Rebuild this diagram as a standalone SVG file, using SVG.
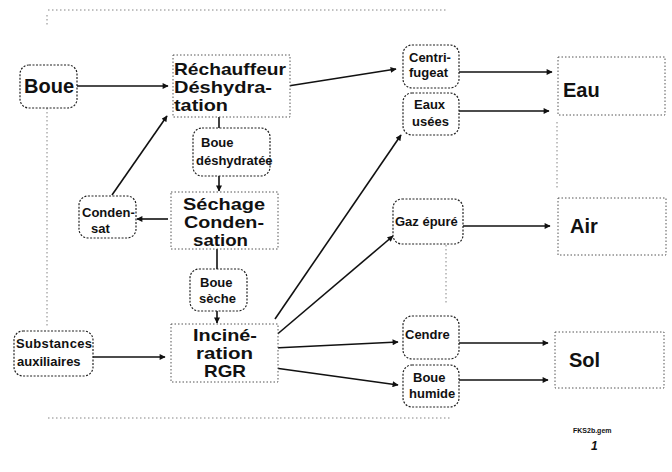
<svg xmlns="http://www.w3.org/2000/svg" width="672" height="472" viewBox="0 0 672 472">
  <defs>
    <marker id="arr" viewBox="0 0 10 10" refX="9" refY="5" markerWidth="7" markerHeight="6" markerUnits="userSpaceOnUse" orient="auto">
      <path d="M0,0 L10,5 L0,10 z" fill="#111"/>
    </marker>
    <style>
      .t { font-family: "Liberation Sans", Arial, Helvetica, sans-serif; font-weight: bold; fill: #111; }
      .big { font-size: 17px; }
      .mid { font-size: 20px; }
      .sm { font-size: 13px; }
      .pill { fill: #fff; stroke: #222; stroke-width: 1.2; stroke-dasharray: 2 1.5; }
      .proc { fill: #fff; stroke: #555; stroke-width: 1; stroke-dasharray: 1.5 2; }
      .frame { fill: none; stroke: #777; stroke-width: 0.9; stroke-dasharray: 1.5 2.5; }
      .c { fill: none; stroke: #111; stroke-width: 1.6; }
      .ca { fill: none; stroke: #111; stroke-width: 1.6; marker-end: url(#arr); }
    </style>
  </defs>

  <rect width="672" height="472" fill="#fff"/>

  <!-- frame guide lines -->
  <g id="frame">
    <line class="frame" x1="48" y1="10" x2="448" y2="10"/>
    <line class="frame" x1="47" y1="15" x2="47" y2="26"/>
    <line class="frame" x1="47" y1="108" x2="47" y2="326"/>
    <line class="frame" x1="48" y1="418" x2="450" y2="418"/>
    <line class="frame" x1="446" y1="245" x2="446" y2="304"/>
    <line class="frame" x1="557" y1="122" x2="557" y2="190"/>
  </g>

  <!-- connectors -->
  <g id="connectors">
    <line class="ca" x1="77" y1="86" x2="168" y2="86"/>
    <line class="ca" x1="288" y1="86" x2="396" y2="69"/>
    <line class="c" x1="219" y1="117" x2="219" y2="128"/>
    <line class="ca" x1="219" y1="176" x2="219" y2="191"/>
    <line class="ca" x1="168" y1="219" x2="137" y2="219"/>
    <line class="ca" x1="112" y1="195" x2="167" y2="116"/>
    <line class="c" x1="217" y1="249" x2="217" y2="270"/>
    <line class="ca" x1="217" y1="311" x2="217" y2="323"/>
    <line class="ca" x1="91" y1="357" x2="165" y2="357"/>
    <line class="ca" x1="275" y1="319" x2="401" y2="135"/>
    <line class="ca" x1="274" y1="337" x2="393" y2="236"/>
    <line class="ca" x1="274" y1="348" x2="398" y2="342"/>
    <line class="ca" x1="275" y1="368" x2="398" y2="385"/>
    <line class="ca" x1="459" y1="72" x2="552" y2="72"/>
    <line class="ca" x1="459" y1="111" x2="549" y2="111"/>
    <line class="ca" x1="463" y1="226" x2="550" y2="226"/>
    <line class="ca" x1="459" y1="343" x2="548" y2="343"/>
    <line class="ca" x1="459" y1="380" x2="548" y2="380"/>
  </g>

  <g id="boue">
    <rect class="pill" x="20" y="65" width="57" height="43" rx="9"/>
    <text class="t mid" x="24" y="93">Boue</text>
  </g>

  <g id="rechauffeur">
    <rect class="proc" x="173" y="55" width="117" height="62"/>
    <text class="t big" x="174" y="75" textLength="112" lengthAdjust="spacingAndGlyphs">Réchauffeur</text>
    <text class="t big" x="174" y="93" textLength="98" lengthAdjust="spacingAndGlyphs">Déshydra-</text>
    <text class="t big" x="174" y="111" textLength="54" lengthAdjust="spacingAndGlyphs">tation</text>
  </g>

  <g id="boue-deshydratee">
    <rect class="pill" x="193" y="128" width="77" height="48" rx="9"/>
    <text class="t sm" x="201" y="147">Boue</text>
    <text class="t sm" x="196" y="165">déshydratée</text>
  </g>

  <g id="sechage">
    <rect class="proc" x="171" y="192" width="107" height="57"/>
    <text class="t big" x="183" y="210" textLength="82" lengthAdjust="spacingAndGlyphs">Séchage</text>
    <text class="t big" x="184" y="228" textLength="80" lengthAdjust="spacingAndGlyphs">Conden-</text>
    <text class="t big" x="193" y="246" textLength="55" lengthAdjust="spacingAndGlyphs">sation</text>
  </g>

  <g id="condensat">
    <rect class="pill" x="79" y="196" width="57" height="42" rx="9"/>
    <text class="t sm" x="82" y="217">Conden-</text>
    <text class="t sm" x="91" y="233">sat</text>
  </g>

  <g id="boue-seche">
    <rect class="pill" x="190" y="269" width="57" height="42" rx="9"/>
    <text class="t sm" x="200" y="287">Boue</text>
    <text class="t sm" x="199" y="303">sèche</text>
  </g>

  <g id="incineration">
    <rect class="proc" x="171" y="324" width="107" height="58"/>
    <text class="t big" x="193" y="341" textLength="64" lengthAdjust="spacingAndGlyphs">Inciné-</text>
    <text class="t big" x="196" y="359" textLength="57" lengthAdjust="spacingAndGlyphs">ration</text>
    <text class="t big" x="204" y="377" textLength="42" lengthAdjust="spacingAndGlyphs">RGR</text>
  </g>

  <g id="substances">
    <rect class="pill" x="14" y="331" width="79" height="45" rx="9"/>
    <text class="t sm" x="16" y="348" textLength="76">Substances</text>
    <text class="t sm" x="17" y="366">auxiliaires</text>
  </g>

  <g id="centrifugeat">
    <rect class="pill" x="403" y="45" width="56" height="43" rx="9"/>
    <text class="t sm" x="409" y="62">Centri-</text>
    <text class="t sm" x="409" y="77">fugeat</text>
  </g>

  <g id="eaux-usees">
    <rect class="pill" x="403" y="93" width="56" height="42" rx="9"/>
    <text class="t sm" x="414" y="109">Eaux</text>
    <text class="t sm" x="412" y="126">usées</text>
  </g>

  <g id="gaz-epure">
    <rect class="pill" x="393" y="199" width="70" height="45" rx="9"/>
    <text class="t sm" x="395" y="226">Gaz épuré</text>
  </g>

  <g id="cendre">
    <rect class="pill" x="403" y="316" width="56" height="43" rx="9"/>
    <text class="t sm" x="405" y="339">Cendre</text>
  </g>

  <g id="boue-humide">
    <rect class="pill" x="403" y="365" width="56" height="42" rx="9"/>
    <text class="t sm" x="413" y="382">Boue</text>
    <text class="t sm" x="409" y="398">humide</text>
  </g>

  <g id="eau">
    <rect class="proc" x="558" y="57" width="107" height="58"/>
    <text class="t mid" x="563" y="97">Eau</text>
  </g>

  <g id="air">
    <rect class="proc" x="558" y="198" width="108" height="57"/>
    <text class="t mid" x="570" y="233">Air</text>
  </g>

  <g id="sol">
    <rect class="proc" x="555" y="332" width="109" height="56"/>
    <text class="t mid" x="569" y="367">Sol</text>
  </g>

  <g id="reference">
    <text class="t" x="573" y="433" font-size="7">FKS2b.gem</text>
    <text class="t" x="591" y="450" font-size="12" font-style="italic">1</text>
  </g>
</svg>
